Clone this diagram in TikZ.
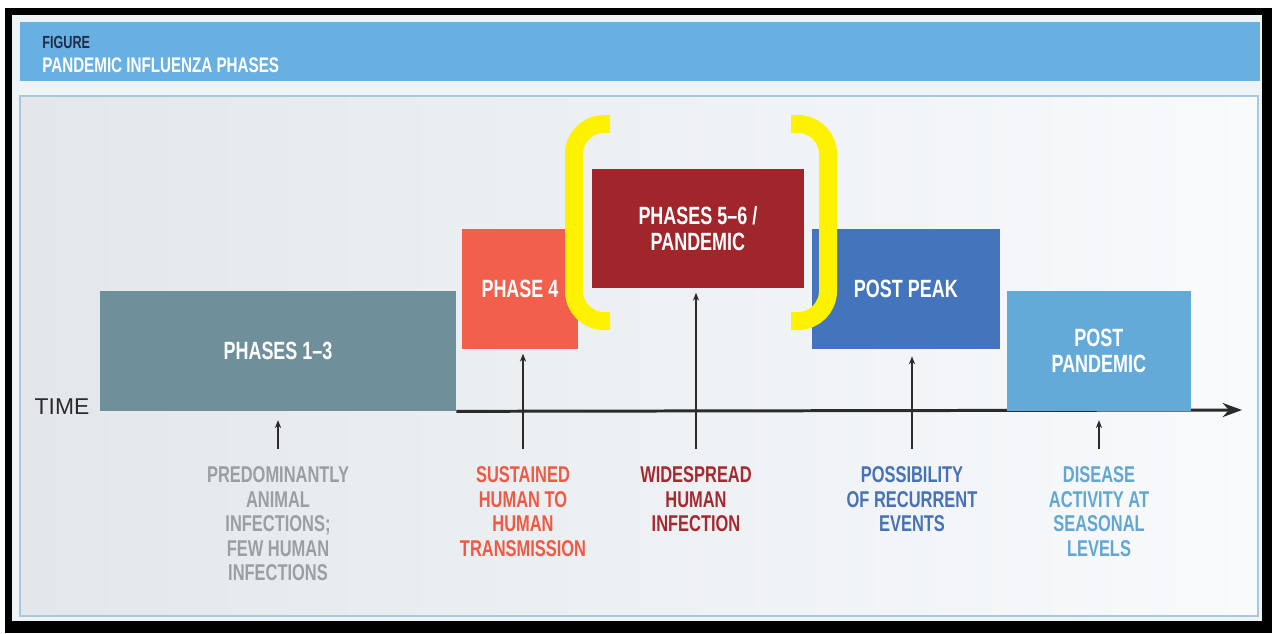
\documentclass[tikz,border=0pt]{standalone}
\usepackage{fontspec}
\usepackage{tikz}
\usepackage{xcolor}
\usetikzlibrary{arrows.meta, positioning}

\newfontfamily\condfont[FakeStretch=0.72]{Liberation Sans}
\newfontfamily\plainfont{Liberation Sans}

\definecolor{framebg}{HTML}{EEF3F6}
\definecolor{barblue}{HTML}{69B0E2}
\definecolor{navy}{HTML}{1F2D4A}
\definecolor{panelL}{HTML}{E3E7EB}
\definecolor{panelR}{HTML}{F8FAFC}
\definecolor{panelline}{HTML}{A9C8D8}
\definecolor{axisgray}{HTML}{2B2B2B}
\definecolor{slate}{HTML}{6F8F9B}
\definecolor{coral}{HTML}{F25F4C}
\definecolor{darkred}{HTML}{A1262B}
\definecolor{peakblue}{HTML}{4475BC}
\definecolor{lightblue}{HTML}{63AAD8}
\definecolor{notegray}{HTML}{9B9FA4}
\definecolor{notecoral}{HTML}{EE5A44}
\definecolor{notered}{HTML}{A52A30}
\definecolor{noteblue}{HTML}{4872B6}
\definecolor{notelight}{HTML}{62A6D2}

\begin{document}
\begin{tikzpicture}[x=0.02cm, y=-0.02cm, on grid, >={Stealth[length=4.5pt, width=3.5pt]},
    phase/.style={rectangle, inner sep=0pt, minimum height=2.4cm, text=white, align=center, font=\condfont\bfseries\fontsize{14.2}{15}\selectfont},
    note/.style={anchor=north, inner sep=3pt, align=center, font=\condfont\bfseries\fontsize{13}{14}\selectfont},
    bracket/.style={draw=yellow, line width=0.36cm, rounded corners=0.6cm}]

    \useasboundingbox (0,0) rectangle (1272,633);
    \fill[white] (0,0) rectangle (1272,633);
    \fill[black] (5,8) rectangle (1272,633);
    \fill[framebg] (12,15) rectangle (1262,621);

    % header
    \fill[barblue] (20,22) rectangle (1260,81);
    \node[anchor=base west, inner sep=0pt, text=navy, font=\condfont\bfseries\fontsize{10}{11}\selectfont] (fig) at (42,48) {FIGURE};
    \node[anchor=base west, inner sep=0pt, text=white, font=\condfont\bfseries\fontsize{12}{13}\selectfont] (title) at (42,72) {PANDEMIC INFLUENZA PHASES};

    \shade[left color=panelL, right color=panelR, draw=panelline, line width=1pt] (20,96) rectangle (1258,616);

    \node[anchor=center, text=axisgray, font=\plainfont\fontsize{13}{15}\selectfont] (time) at (62,407) {TIME};

    \node[phase, fill=slate, minimum width=7.12cm] (p13) at (278,351) {PHASES 1–3};

    \coordinate (axisend) at (1242,410);
    \draw[line width=1.7pt, color=axisgray, -{Stealth[length=11pt, width=8pt]}] (p13.south east) -- (axisend);

    \node[phase, fill=coral, minimum width=2.32cm, above right=1.24cm and 4.84cm of p13] (p4) {PHASE 4};

    \node[phase, fill=darkred, minimum width=4.24cm, minimum height=2.38cm, above right=1.21cm and 3.56cm of p4] (p56) {PHASES 5–6 /\\PANDEMIC};

    \node[phase, fill=peakblue, minimum width=3.76cm, below right=1.21cm and 4.16cm of p56] (peak) {POST PEAK};

    \node[phase, fill=lightblue, minimum width=3.68cm, below right=1.24cm and 3.86cm of peak] (postpan) {POST\\PANDEMIC};

    % what each phase means
    \node[note, text=notegray] (n13) at (278,461) {PREDOMINANTLY\\ANIMAL\\INFECTIONS;\\FEW HUMAN\\INFECTIONS};
    \node[note, text=notecoral] (n4) at (523,461) {SUSTAINED\\HUMAN TO\\HUMAN\\TRANSMISSION};
    \node[note, text=notered] (n56) at (696,461) {WIDESPREAD\\HUMAN\\INFECTION};
    \node[note, text=noteblue] (npeak) at (912,461) {POSSIBILITY\\OF RECURRENT\\EVENTS};
    \node[note, text=notelight] (npostpan) at (1099,461) {DISEASE\\ACTIVITY AT\\SEASONAL\\LEVELS};

    \path[->, line width=1.2pt, color=axisgray, shorten <=7pt, shorten >=2.5pt]
    (n13.north) edge[shorten >=5pt] (n13.north |- p13.south)
    (n4.north) edge[] (n4.north |- p4.south)
    (n56.north) edge[] (n56.north |- p56.south)
    (npeak.north) edge[shorten >=4pt] (npeak.north |- peak.south)
    (npostpan.north) edge[shorten >=5pt] (npostpan.north |- postpan.south);

    % yellow brackets round phases 5-6
    \draw[bracket] (610,124) -- (574,124) -- (574,321) -- (610,321);
    \draw[bracket] (791,124) -- (828,124) -- (828,321) -- (791,321);

\end{tikzpicture}
\end{document}
